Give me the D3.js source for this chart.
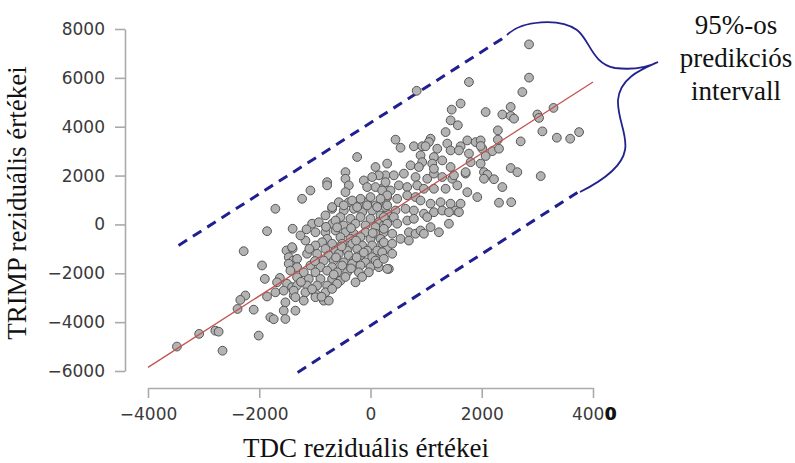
<!DOCTYPE html>
<html><head><meta charset="utf-8">
<script src="https://cdn.jsdelivr.net/npm/d3@7"></script>
<style>body{margin:0;background:#fff}svg{display:block}</style>
</head><body>
<svg id="c" width="795" height="463"></svg>
<script>
const xTicks=[-4000,-2000,0,2000,4000];
const yTicks=[-6000,-4000,-2000,0,2000,4000,6000,8000];
const fitLine=[[-4000,-5850],[4000,5830]];
const upperPI=[[-3450,-860],[2460,7740]];
const lowerPI=[[-1310,-6060],[3720,1310]];
const xTitle="TDC reziduális értékei";
const yTitle="TRIMP reziduális értékei";
const noteLines=["95%-os","predikciós","intervall"];
const points=[
[-1860,-275],[-1400,-176],[-2280,-1095],[-1510,-1066],[-1400,-996],[-1470,-1340],[-1390,-1480],[-1950,-1680],[-1470,-1610],[-1900,-2230],[-1630,-2190],[-1680,-2370],[-1710,-2780],[-1500,-2430],[-1560,-2710],[-1410,-2570],[-1380,-2910],[-1860,-2950],[-1530,-3190],[-1350,-3530],[-1560,-3530],[-1530,-3870],[-1800,-3800],[-1740,-3880],[-2250,-2910],[-2340,-3090],[-2390,-3460],[-2100,-3490],[-2790,-4350],[-2730,-4390],[-3080,-4480],[-2010,-4550],[-3480,-5000],[-2660,-5170],[-1710,640],
[-570,910],[-390,910],[-210,850],[-60,910],[90,780],[240,850],
[-690,640],[-480,570],[-300,640],[-150,500],[30,570],[180,370],[300,440],
[-810,370],[-540,300],[-360,230],[-180,300],[0,230],[150,90],[300,160],[-1050,30],[-930,90],[-690,30],[-480,-40],[-270,30],[-90,-40],[90,-110],[240,-40],
[-990,-320],[-810,-320],[-630,-250],[-450,-320],[-300,-380],[-90,-320],[90,-380],[240,-320],[-780,-590],[-540,-520],[-360,-590],[-180,-520],[0,-590],[180,-590],
[-870,-730],[-690,-790],[-510,-790],[-330,-790],[-150,-860],[30,-860],[210,-790],[-1410,-930],[-810,-1000],[-630,-1070],[-420,-1070],[-240,-1000],[-60,-1070],[120,-1070],[300,-1000],
[-1140,-1200],[-960,-1200],[-750,-1270],[-570,-1200],[-390,-1270],[-180,-1270],[30,-1340],[210,-1340],[-1320,-1410],[-840,-1480],[-660,-1480],[-480,-1550],[-300,-1480],[-90,-1550],[90,-1480],
[-1320,-1750],[-1080,-1680],[-900,-1750],[-690,-1750],[-510,-1680],[-330,-1610],[-180,-1680],[0,-1750],[150,-1750],[330,-1820],[-1440,-1890],[-1200,-1960],[-990,-1960],[-780,-1890],[-600,-1960],[-420,-1960],[-210,-1960],[-30,-1960],
[-1320,-2160],[-1110,-2230],[-900,-2230],[-690,-2230],[-540,-2300],[-1320,-2500],[-1140,-2500],[-960,-2500],[-780,-2500],[-600,-2430],[-270,-2370],
[-1380,-2710],[-1170,-2780],[-990,-2840],[-810,-2780],[-690,-2640],[-1350,-2980],[-1200,-3120],[-990,-2980],[-840,-3120],[-750,-3120],
[-1170,-660],[-990,-860],[-1260,-450],[-630,160],[-1100,-1000],[-1000,-1500],[-1250,-2350],[-1050,-2650],[-880,-2960],[-660,-2050],[-450,-2150],[-350,-1800],[-620,-1350],[-250,-1350],[-120,-1150],[-520,-900],[-260,-660],[40,-350],[-350,-150],[-600,-120],[-1150,-200],[-800,-100],[130,-1600],[-150,-2150],
[270,2010],[420,2010],[600,2080],[810,1940],[1020,1870],[1140,2080],[1290,1940],[1470,1870],[1560,1600],[1710,2080],[1740,1320],[1920,1120],
[240,1530],[360,1390],[510,1600],[660,1530],[840,1600],[960,1460],[1140,1460],[1350,1460],
[300,1120],[480,1050],[660,1190],[810,1120],[900,980],[1080,850],[1260,910],[1440,850],[1620,850],[1530,570],
[270,710],[450,570],[630,640],[780,570],[960,440],[1140,500],[1290,570],[1410,500],[1590,500],
[240,300],[420,300],[300,30],[480,30],[660,160],[780,230],[1020,300],[1410,30],
[240,-180],[390,-380],[540,-590],[690,-320],[690,-660],[810,-380],[900,-250],[1080,-110],[1230,-320],[960,-380],
[240,-730],[390,-790],[210,-1140],[390,-1200],[240,-1410],[300,-1820],
[-240,2760],[-450,2140],[-450,1870],[-780,1730],[-780,1600],[-390,1600],[-450,1320],[-1080,1390],[-1230,1050],[90,2350],[300,2490],[150,2010],[30,1940],[-120,1800],[270,1730],[-60,1530],[90,1530],[210,1390],[300,1190],[0,1120],[-180,1050],[180,1050],[-330,980],[-690,710],[-480,780],[-240,710],[-60,780],[120,710],[300,780],
[1770,5830],[830,5470],[1620,4950],[1460,4700],[2070,4600],[1440,4260],[1570,4060],[1350,3780],[450,3470],[540,3140],[1080,3510],[1050,3370],[780,3200],[930,3200],[990,3200],[1200,3100],[1380,3310],[1440,3030],[1620,3200],[1740,3440],[1890,3370],[1980,3440],[1590,3030],[1770,2900],[2010,3100],[900,2830],[1140,2760],[1290,2620],[1110,2490],[930,2550],[720,2420],[870,2350],[1140,2280],[1440,2350],[1800,2550],[1980,2490],[1710,2140],[1500,2010],[2040,2140],
[2850,7370],[2850,6010],[2730,5420],[2370,4500],[2520,4810],[2520,4440],[2580,4330],[3000,4500],[3030,4360],[3290,4770],[2290,3850],[2290,3470],[3090,3810],[2700,3400],[3350,3550],[3590,3510],[3750,3780],[1980,3210],[2190,3000],[2310,3100],[2070,2800],[2520,2310],[2640,2140],[2100,2040],[2040,1870],[2220,1850],[2370,1530],[3060,1980],[2310,890],[2530,910]
];

const svg=d3.select("#c");
const x=d3.scaleLinear().domain([-4000,4000]).range([148,593]);
const y=d3.scaleLinear().domain([-6000,8000]).range([371,29]);
const fmt=d3.format("d");

const gx=svg.append("g").attr("transform","translate(0,388)")
  .call(d3.axisBottom(x).tickValues(xTicks).tickFormat(fmt).tickSize(10).tickSizeOuter(0).tickPadding(10));
const gy=svg.append("g").attr("transform","translate(125,0)")
  .call(d3.axisLeft(y).tickValues(yTicks).tickFormat(fmt).tickSize(10).tickSizeOuter(0).tickPadding(10));
[gx,gy].forEach(g=>{
  g.select(".domain").attr("stroke","#aaa").attr("stroke-width",1.6);
  g.selectAll(".tick line").attr("stroke","#aaa").attr("stroke-width",1.6);
  g.selectAll(".tick text").attr("font-family","DejaVu Sans").attr("font-size",17).attr("fill","#3a3a3a");
});
// stray overprinted zero after the last x tick (as in the source image)
svg.append("text").attr("x",x(4000)+18).attr("y",420).attr("text-anchor","middle")
  .attr("font-family","DejaVu Sans").attr("font-size",17).attr("font-weight","bold").attr("fill","#111").text("0");

const line=d3.line().x(d=>x(d[0])).y(d=>y(d[1]));
[upperPI,lowerPI].forEach(seg=>{
  svg.append("path").attr("d",line(seg)).attr("fill","none").attr("stroke","#1f1f8f")
    .attr("stroke-width",3).attr("stroke-dasharray","10,7");
});

svg.append("g").selectAll("circle").data(points).join("circle")
  .attr("cx",d=>x(d[0])).attr("cy",d=>y(d[1])).attr("r",4.4)
  .attr("fill","#b3b3b3").attr("stroke","#555").attr("stroke-width",1);

svg.append("path").attr("d",line(fitLine)).attr("fill","none").attr("stroke","#c25450").attr("stroke-width",1.3);

// curly brace annotation
svg.append("path")
  .attr("d","M507,35 C522,20 560,18 577,30 C590,40 592,64 615,68 C632,70 648,67 658,62 C640,70 620,78 618,100 C617,118 628,135 625,150 C622,168 600,182 580,192")
  .attr("fill","none").attr("stroke","#22228e").attr("stroke-width",1.8);

svg.append("text").attr("x",366).attr("y",457).attr("text-anchor","middle")
  .attr("font-family","Liberation Serif").attr("font-size",27).attr("fill","#111").text(xTitle);
svg.append("text").attr("transform","translate(26,203) rotate(-90)").attr("text-anchor","middle")
  .attr("font-family","Liberation Serif").attr("font-size",27).attr("fill","#111").text(yTitle);

svg.append("g").selectAll("text").data(noteLines).join("text")
  .attr("x",736).attr("y",(d,i)=>34+i*33).attr("text-anchor","middle")
  .attr("font-family","Liberation Serif").attr("font-size",27).attr("fill","#111").text(d=>d);
</script>
</body></html>
